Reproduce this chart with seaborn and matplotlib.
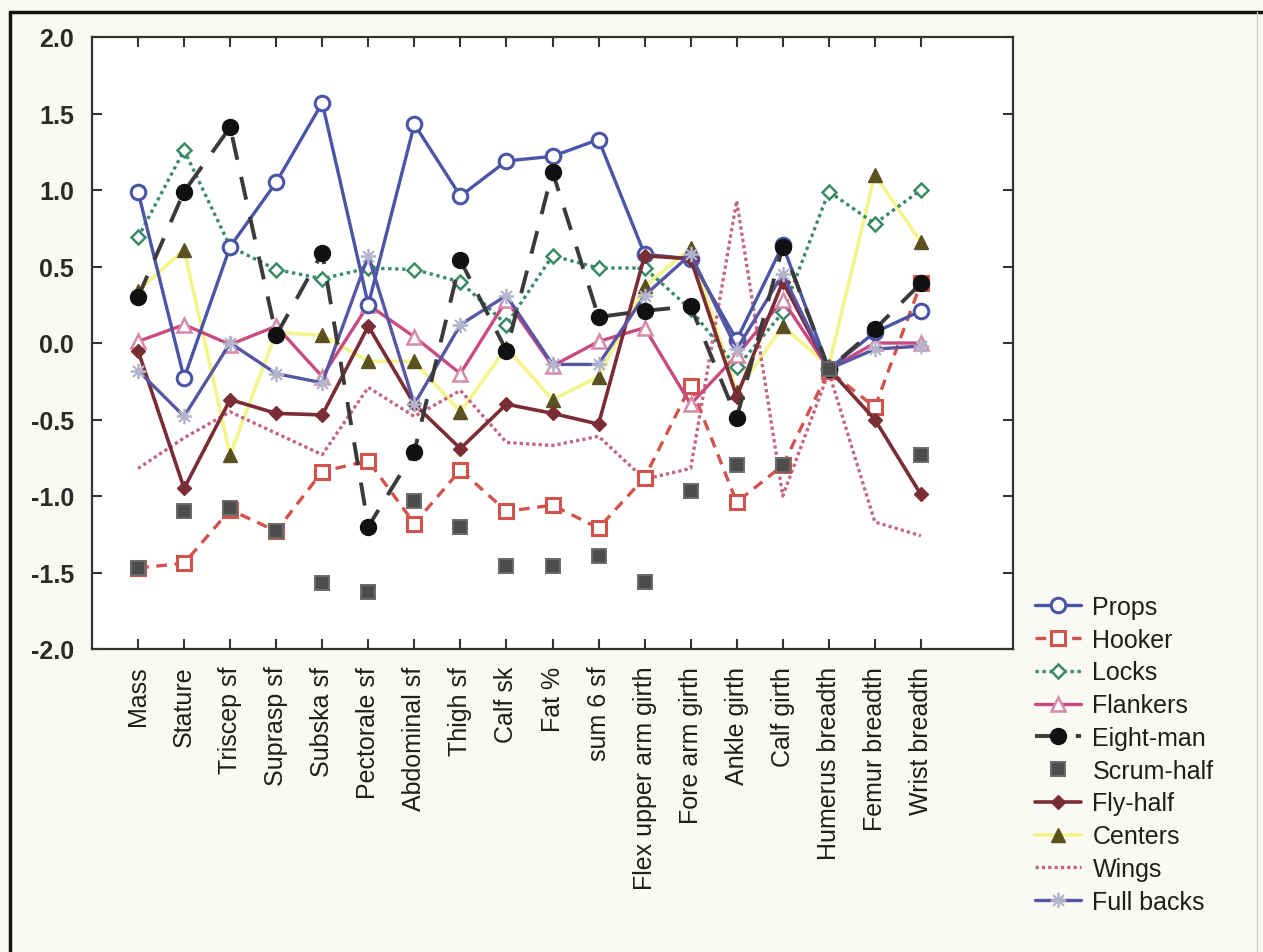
import numpy as np
import pandas as pd
import matplotlib
matplotlib.use("Agg")
import matplotlib.pyplot as plt
from matplotlib.lines import Line2D
import seaborn as sns

# Anthropometric variables (x axis)
variables = ["Mass", "Stature", "Triscep sf", "Suprasp sf", "Subska sf",
             "Pectorale sf", "Abdominal sf", "Thigh sf", "Calf sk", "Fat %",
             "sum 6 sf", "Flex upper arm girth", "Fore arm girth", "Ankle girth",
             "Calf girth", "Humerus breadth", "Femur breadth", "Wrist breadth"]

# Standardised scores per playing position
props = [0.99, -0.23, 0.63, 1.05, 1.57, 0.25, 1.43, 0.96, 1.19, 1.22, 1.33,
         0.58, 0.55, 0.02, 0.64, -0.17, 0.07, 0.21]
hooker = [-1.47, -1.44, -1.09, -1.23, -0.84, -0.77, -1.18, -0.83, -1.10, -1.06,
          -1.21, -0.88, -0.28, -1.04, -0.80, -0.18, -0.42, 0.39]
locks = [0.69, 1.26, 0.63, 0.48, 0.42, 0.49, 0.48, 0.40, 0.12, 0.57, 0.49,
         0.49, 0.22, -0.16, 0.20, 0.99, 0.78, 1.00]
flankers = [0.01, 0.12, -0.01, 0.11, -0.22, 0.25, 0.04, -0.20, 0.28, -0.15,
            0.01, 0.10, -0.40, -0.08, 0.28, -0.17, 0.00, 0.00]
eight_man = [0.30, 0.99, 1.41, 0.05, 0.59, -1.20, -0.71, 0.54, -0.05, 1.12,
             0.17, 0.21, 0.24, -0.49, 0.63, -0.17, 0.09, 0.39]
scrum_half = [-1.47, -1.10, -1.08, -1.23, -1.57, -1.63, -1.03, -1.20, -1.46,
              -1.46, -1.39, -1.56, -0.97, -0.80, -0.80, -0.17, np.nan, -0.73]
fly_half = [-0.05, -0.95, -0.37, -0.46, -0.47, 0.11, -0.40, -0.69, -0.40,
            -0.46, -0.53, 0.57, 0.55, -0.35, 0.40, -0.17, -0.50, -0.99]
centers = [0.34, 0.61, -0.73, 0.07, 0.05, -0.12, -0.12, -0.45, -0.03, -0.37,
           -0.22, 0.37, 0.62, -0.32, 0.11, -0.15, 1.10, 0.66]
wings = [-0.82, -0.62, -0.45, -0.59, -0.73, -0.29, -0.48, -0.31, -0.65, -0.67,
         -0.61, -0.89, -0.82, 0.93, -1.00, -0.19, -1.17, -1.26]
full_backs = [-0.18, -0.48, 0.00, -0.20, -0.26, 0.57, -0.40, 0.12, 0.31,
              -0.14, -0.14, 0.31, 0.58, -0.04, 0.45, -0.17, -0.04, -0.02]

positions = ["Props", "Hooker", "Locks", "Flankers", "Eight-man", "Scrum-half",
             "Fly-half", "Centers", "Wings", "Full backs"]
series = [props, hooker, locks, flankers, eight_man, scrum_half, fly_half,
          centers, wings, full_backs]

yticks = [2.0, 1.5, 1.0, 0.5, 0.0, -0.5, -1.0, -1.5, -2.0]

# Line / marker styling per position
styles = {
    "Props": dict(color="#4a55a5", linestyle="-", lw=2.4, marker="o", ms=10.5,
                  mfc="white", mec="#4a55a5", mew=2.2, z=5),
    "Hooker": dict(color="#d2534c", linestyle=(0, (3.2, 2.3)), lw=2.4, marker="s",
                   ms=9.5, mfc="white", mec="#d2534c", mew=2.2, z=4),
    "Locks": dict(color="#3a8a68", linestyle=(0, (1.0, 1.1)), lw=2.4, marker="D",
                  ms=7, mfc="white", mec="#3a8a68", mew=1.8, z=4),
    "Flankers": dict(color="#c84a80", linestyle="-", lw=2.4, marker="^", ms=9.5,
                     mfc="white", mec="#d48aa8", mew=1.8, z=4),
    "Eight-man": dict(color="#3a3a3a", linestyle=(0, (6, 4.5)), lw=2.8, marker="o",
                      ms=11.5, mfc="#111111", mec="#111111", mew=1.0, z=6),
    "Scrum-half": dict(color="#505050", linestyle="none", lw=0, marker="s", ms=9.5,
                       mfc="#4d4d4d", mec="#6a6a6a", mew=1.4, z=6),
    "Fly-half": dict(color="#7b2d36", linestyle="-", lw=2.6, marker="D", ms=7.5,
                     mfc="#7b2d36", mec="#7b2d36", mew=1.0, z=5),
    "Centers": dict(color="#f4f48c", linestyle="-", lw=2.6, marker="^", ms=9.5,
                    mfc="#5b5020", mec="#5b5020", mew=1.0, z=3),
    "Wings": dict(color="#c2678a", linestyle=(0, (1.0, 0.9)), lw=2.4, marker=None,
                  ms=0, mfc="none", mec="none", mew=0, z=3),
    "Full backs": dict(color="#5856a4", linestyle="-", lw=2.4, marker=(8, 2, 0),
                       ms=11, mfc="#c8c8d8", mec="#b4b4cc", mew=1.3, z=5),
}

sns.set_theme(style="white")
plt.rcParams["font.family"] = ["Liberation Sans", "DejaVu Sans"]

fig = plt.figure(figsize=(12.63, 9.53), dpi=100, facecolor="#faf9f4")
W, H = 1263, 953
ax = fig.add_axes([92 / W, 1 - 650 / H, (1013 - 92) / W, (650 - 38) / H])
ax.set_facecolor("white")

xpos = np.arange(len(variables))
for name, vals in zip(positions, series):
    st = styles[name]
    df = pd.DataFrame({"x": xpos, "y": vals}).dropna()
    kws = dict(color=st["color"], linestyle=st["linestyle"], linewidth=st["lw"],
               zorder=st["z"], label=name)
    if st["marker"] is not None:
        kws.update(marker=st["marker"], markersize=st["ms"],
                   markerfacecolor=st["mfc"], markeredgecolor=st["mec"],
                   markeredgewidth=st["mew"])
    sns.lineplot(data=df, x="x", y="y", ax=ax, sort=False, estimator=None,
                 legend=False, **kws)
    if st["lw"] > 0:
        ax.lines[-1].set_linewidth(st["lw"])

ax.set_xlim(-1, 19)
ax.set_ylim(-2.0, 2.0)
ax.set_xticks(xpos)
ax.set_xticklabels(variables, rotation=90, fontsize=18, color="#1e1e1e")
ax.set_yticks(yticks)
ax.set_yticklabels([f"{v:.1f}" for v in yticks], fontsize=18,
                   fontweight="bold", color="#2a2a2a")
ax.set_xlabel("")
ax.set_ylabel("")
ax.tick_params(axis="both", direction="in", length=7, width=1.5,
               color="#333333", top=True, right=True, left=True, bottom=True,
               labeltop=False, labelright=False)
ax.tick_params(axis="x", pad=12)
ax.tick_params(axis="y", pad=13)
for sp in ax.spines.values():
    sp.set_visible(True)
    sp.set_color("#333333")
    sp.set_linewidth(1.6)

# Legend outside the plotting area, lower right
handles, labels = ax.get_legend_handles_labels()
leg = fig.legend(handles, labels, loc="upper left",
                 bbox_to_anchor=(1035 / W, 1 - 596 / H), frameon=False,
                 fontsize=18, handlelength=1.85, handletextpad=0.45,
                 labelspacing=0.35, borderaxespad=0, borderpad=0)
for t in leg.get_texts():
    t.set_color("#1e1e1e")

# Outer frame of the figure panel
fig.add_artist(Line2D([10 / W, 1.0], [1 - 13 / H, 1 - 13 / H],
                      transform=fig.transFigure, color="#111111", lw=2.5))
fig.add_artist(Line2D([10 / W, 10 / W], [1 - 13 / H, 0.0],
                      transform=fig.transFigure, color="#111111", lw=2.5))
fig.add_artist(Line2D([1257 / W, 1257 / W], [1 - 13 / H, 0.0],
                      transform=fig.transFigure, color="#d0d0d0", lw=1.0))

fig.savefig("out.png", dpi=100, facecolor=fig.get_facecolor())
